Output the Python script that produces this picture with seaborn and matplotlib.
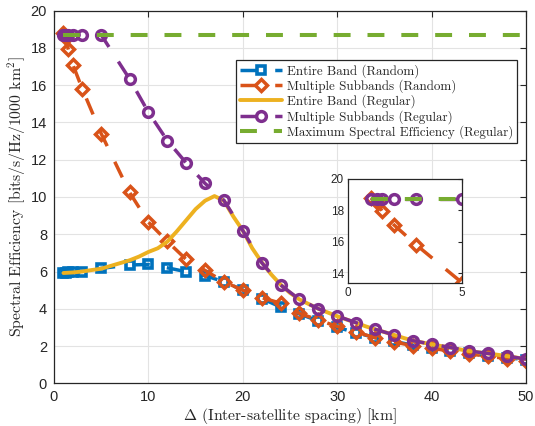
import matplotlib
matplotlib.use("Agg")
import matplotlib.pyplot as plt
import seaborn as sns
import numpy as np
import pandas as pd

# ---------------- data ----------------
x_rand = [1, 1.25, 1.5, 2, 3, 5, 8, 10, 12, 14, 16, 18, 20, 22, 24, 26, 28, 30,
          32, 34, 36, 38, 40, 42, 44, 46, 48, 50]
entire_random = [5.92, 5.93, 5.95, 5.97, 6.0, 6.17, 6.35, 6.38, 6.2, 5.99, 5.78, 5.45,
                 5.0, 4.55, 4.1, 3.72, 3.35, 3.0, 2.72, 2.45, 2.25, 2.05, 1.9, 1.75,
                 1.6, 1.48, 1.37, 1.27]
multi_random = [18.8, 18.55, 17.95, 17.1, 15.8, 13.4, 10.25, 8.65, 7.62, 6.65, 6.06, 5.45,
                5.0, 4.6, 4.3, 3.75, 3.4, 3.05, 2.75, 2.45, 2.22, 2.02, 1.88, 1.73,
                1.58, 1.45, 1.33, 1.22]
multi_regular = [18.7, 18.7, 18.7, 18.7, 18.7, 18.7, 16.34, 14.55, 13.03, 11.83, 10.73, 9.82,
                 8.2, 6.48, 5.28, 4.5, 4.0, 3.61, 3.25, 2.9, 2.6, 2.29, 2.1, 1.92,
                 1.73, 1.6, 1.46, 1.3]

x_reg = list(range(1, 51))
entire_regular = [5.92, 5.95, 6.0, 6.08, 6.15, 6.3, 6.45, 6.6, 6.8, 7.05,
                  7.25, 7.6, 8.15, 8.75, 9.35, 9.8, 10.05, 9.8, 8.95, 8.2,
                  7.25, 6.5, 5.85, 5.3, 4.85, 4.5, 4.25, 4.0, 3.8, 3.6,
                  3.42, 3.25, 3.06, 2.9, 2.75, 2.6, 2.44, 2.29, 2.19, 2.1,
                  2.0, 1.92, 1.82, 1.73, 1.66, 1.6, 1.53, 1.46, 1.38, 1.3]

x_max = [1, 50]
max_regular = [18.7, 18.7]

labels = ["Entire Band (Random)", "Multiple Subbands (Random)",
          "Entire Band (Regular)", "Multiple Subbands (Regular)",
          "Maximum Spectral Efficiency (Regular)"]

c_blue, c_orange, c_yellow, c_purple, c_green = "#0072BD", "#D95319", "#EDB120", "#7E2F8E", "#77AC30"

# ---------------- style ----------------
sns.set_style("white")
plt.rcParams["font.family"] = ["cmr10", "DejaVu Serif"]
plt.rcParams["mathtext.fontset"] = "cm"
plt.rcParams["axes.unicode_minus"] = False
tick_font = "Liberation Sans"
axcol = "#262626"

fig = plt.figure(figsize=(5.35, 4.26), dpi=100)
ax = fig.add_axes([54 / 535, 1 - 383.3 / 426, (526 - 54) / 535, (383.3 - 10.7) / 426])

LW = 2.5
dash = (0, (5, 5))
dash_g = (0, (4.2, 4.2))


def draw(a, lab=True):
    sns.lineplot(x=x_rand, y=entire_random, ax=a, color=c_blue, linewidth=LW, linestyle=dash,
                 marker="s", markersize=6.2, markerfacecolor="none",
                 markeredgecolor=c_blue, markeredgewidth=2.6,
                 label=labels[0] if lab else None, legend=False, sort=False)
    sns.lineplot(x=x_rand, y=multi_random, ax=a, color=c_orange, linewidth=LW, linestyle=dash,
                 marker="D", markersize=6.5, markerfacecolor="none",
                 markeredgecolor=c_orange, markeredgewidth=2.5,
                 label=labels[1] if lab else None, legend=False, sort=False)
    sns.lineplot(x=x_reg, y=entire_regular, ax=a, color=c_yellow, linewidth=LW + 0.3,
                 label=labels[2] if lab else None, legend=False, sort=False)
    sns.lineplot(x=x_rand, y=multi_regular, ax=a, color=c_purple, linewidth=LW, linestyle=dash,
                 marker="o", markersize=7, markerfacecolor="none",
                 markeredgecolor=c_purple, markeredgewidth=2.5,
                 label=labels[3] if lab else None, legend=False, sort=False)
    sns.lineplot(x=x_max, y=max_regular, ax=a, color=c_green, linewidth=LW + 0.4, linestyle=dash_g,
                 label=labels[4] if lab else None, legend=False, sort=False)


draw(ax)

ax.set_xlim(0, 50)
ax.set_ylim(0, 20)
ax.set_xticks(np.arange(0, 51, 10))
ax.set_yticks(np.arange(0, 21, 2))
ax.grid(True, color="#e3e3e3", linewidth=0.8)
ax.set_axisbelow(True)
for s in ax.spines.values():
    s.set_color(axcol)
    s.set_linewidth(0.9)
ax.tick_params(direction="in", top=True, right=True, length=4, width=0.8, color=axcol,
               labelsize=10.5, labelcolor=axcol, pad=5)
for t in ax.get_xticklabels() + ax.get_yticklabels():
    t.set_fontfamily(tick_font)

ax.set_xlabel(r"$\Delta$ (Inter-satellite spacing) [km]", fontsize=11.3, color=axcol, labelpad=1)
ax.set_ylabel(r"Spectral Efficiency [bits/s/Hz/1000 km$^2$]", fontsize=11.3, color=axcol, labelpad=2)

leg = ax.legend(loc="upper left", bbox_to_anchor=(0.386, 0.868), borderaxespad=0,
                fontsize=9.4, frameon=True, fancybox=False, edgecolor=axcol,
                handlelength=3.2, labelspacing=0.12, borderpad=0.3, handletextpad=0.4)
leg.get_frame().set_linewidth(0.9)
leg.get_frame().set_facecolor("white")
leg.get_frame().set_alpha(1)

# ---------------- inset ----------------
axi = fig.add_axes([348 / 535, 1 - 283 / 426, 114 / 535, 104 / 426])
draw(axi, lab=False)
axi.set_xlim(0, 5)
axi.set_ylim(13.38, 20)
axi.set_xticks([0, 5])
axi.set_yticks([14, 16, 18, 20])
axi.set_xlabel("")
axi.set_ylabel("")
axi.grid(False)
axi.set_facecolor("white")
for s in axi.spines.values():
    s.set_color(axcol)
    s.set_linewidth(0.9)
axi.tick_params(direction="in", top=True, right=True, length=3, width=0.8, color=axcol,
                labelsize=8.5, labelcolor=axcol, pad=3)
for t in axi.get_xticklabels() + axi.get_yticklabels():
    t.set_fontfamily(tick_font)

fig.savefig("out.png", dpi=100)
